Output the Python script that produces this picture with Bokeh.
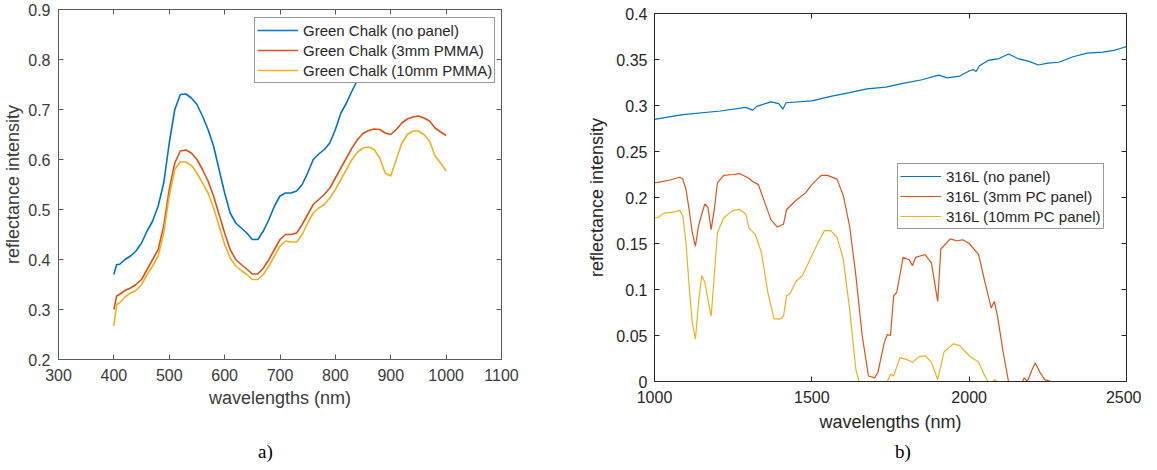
from bokeh.plotting import figure
from bokeh.models import (Range1d, FixedTicker, LinearAxis, Legend, LegendItem,
                          CustomJSTickFormatter, Div, Spacer)
from bokeh.layouts import row, column
from bokeh.embed import file_html
from bokeh.resources import INLINE

# ---------------- data: panel a) Green Chalk ----------------
wl_a = [400, 405, 410, 420, 430, 440, 450, 460, 470, 480,
        490, 500, 510, 520, 530, 540, 550, 560, 570, 580,
        590, 600, 610, 620, 630, 640, 650, 660, 670, 680,
        690, 700, 710, 720, 730, 740, 750, 760, 770, 780,
        790, 800, 810, 820, 830, 840, 850, 860, 870, 880,
        890, 900, 910, 920, 930, 940, 950, 960, 970, 980,
        990, 1000]
chalk_none = [.370, .390, .390, .400, .407, .417, .433, .457, .477, .507,
              .553, .633, .700, .730, .731, .723, .710, .687, .660, .627,
              .580, .533, .493, .473, .463, .453, .440, .440, .457, .480,
              .507, .527, .533, .533, .537, .550, .573, .600, .611, .620,
              .633, .660, .693, .713, .737, .759, .775, .790, .800, .810,
              .815, .815, .820, .830, .840, .845, .850, .850, .845, .840,
              .840, .835]
chalk_3mm = [.300, .327, .330, .338, .343, .350, .360, .380, .400, .420,
             .467, .540, .593, .617, .619, .613, .600, .580, .557, .527,
             .490, .453, .420, .400, .390, .381, .371, .371, .383, .400,
             .420, .440, .450, .450, .453, .470, .490, .510, .520, .530,
             .543, .563, .583, .603, .623, .640, .652, .658, .661, .660,
             .653, .650, .660, .673, .681, .685, .687, .683, .677, .663,
             .655, .648]
chalk_10mm = [.267, .310, .313, .325, .333, .338, .350, .370, .387, .407,
              .453, .527, .580, .595, .595, .588, .573, .553, .533, .503,
              .467, .430, .403, .387, .378, .370, .360, .360, .370, .387,
              .407, .427, .437, .435, .435, .450, .473, .493, .503, .510,
              .523, .540, .560, .580, .600, .615, .623, .625, .620, .603,
              .573, .567, .600, .633, .650, .657, .657, .650, .637, .607,
              .593, .577]
labels_a = ["Green Chalk (no panel)", "Green Chalk (3mm PMMA)", "Green Chalk (10mm PMMA)"]
xticks_a = [300, 400, 500, 600, 700, 800, 900, 1000, 1100]
yticks_a = [0.2, 0.3, 0.4, 0.5, 0.6, 0.7, 0.8, 0.9]

# ---------------- data: panel b) 316L ----------------
wl_b_none = [1000, 1090, 1210, 1290, 1312, 1325, 1370, 1395, 1408, 1418,
             1500, 1560, 1620, 1675, 1735, 1790, 1850, 1903, 1930, 1970,
             2003, 2014, 2022, 2032, 2060, 2095, 2125, 2155, 2190, 2220,
             2250, 2285, 2330, 2375, 2425, 2460, 2480, 2500]
steel_none = [.285, .290, .294, .298, .295, .299, .304, .302, .296, .303,
              .305, .310, .314, .318, .320, .324, .328, .333, .330, .332,
              .338, .339, .337, .343, .349, .351, .356, .351, .348, .344,
              .346, .347, .353, .357, .358, .360, .362, .364]
wl_b_3mm = [1000, 1020, 1050, 1080, 1090, 1100, 1110, 1120, 1130, 1140,
            1150, 1160, 1170, 1180, 1190, 1200, 1220, 1250, 1270, 1300,
            1310, 1330, 1350, 1370, 1390, 1410, 1420, 1450, 1480, 1500,
            1530, 1550, 1580, 1600, 1620, 1640, 1660, 1680, 1700, 1710,
            1730, 1740, 1750, 1760, 1770, 1790, 1810, 1820, 1830, 1860,
            1880, 1900, 1910, 1940, 1960, 1980, 2000, 2030, 2050, 2070,
            2080, 2090, 2110, 2125, 2170, 2175, 2185, 2200, 2210, 2225,
            2240, 2260, 2500]
steel_3mm = [.216, .217, .219, .222, .220, .209, .187, .162, .147, .169,
             .182, .193, .189, .165, .187, .216, .224, .225, .226, .221,
             .218, .214, .195, .176, .168, .171, .187, .197, .205, .214,
             .224, .224, .220, .202, .169, .115, .050, .006, .004, .010,
             .042, .051, .050, .093, .097, .135, .132, .126, .135, .138,
             .129, .087, .144, .155, .153, .154, .150, .138, .108, .080,
             .087, .071, .028, 0, 0, .004, 0, .013, .020, .010,
             .002, 0, 0]
wl_b_10mm = [1000, 1010, 1030, 1060, 1080, 1090, 1100, 1110, 1120, 1130,
             1140, 1150, 1160, 1170, 1180, 1190, 1200, 1220, 1250, 1270,
             1290, 1300, 1320, 1340, 1360, 1380, 1400, 1410, 1420, 1430,
             1450, 1470, 1500, 1520, 1540, 1560, 1580, 1600, 1620, 1640,
             1650, 1740, 1750, 1760, 1780, 1800, 1820, 1840, 1860, 1880,
             1900, 1920, 1950, 1970, 2000, 2030, 2050, 2060, 2075, 2080,
             2090, 2500]
steel_10mm = [.178, .178, .183, .184, .186, .180, .151, .104, .064, .046,
              .086, .115, .108, .089, .071, .115, .162, .178, .186, .187,
              .182, .167, .160, .140, .097, .068, .068, .071, .093, .095,
              .109, .115, .137, .151, .164, .164, .157, .133, .079, .013,
              0, 0, .008, .006, .026, .024, .021, .027, .028, .021,
              .002, .032, .041, .039, .028, .021, .006, 0, 0, .002,
              0, 0]
labels_b = ["316L (no panel)", "316L (3mm PC panel)", "316L (10mm PC panel)"]
xticks_b = [1000, 1500, 2000, 2500]
yticks_b = [0, 0.05, 0.1, 0.15, 0.2, 0.25, 0.3, 0.35, 0.4]

COLORS = ["#0072BD", "#D95319", "#EDB120"]
FONT = "Liberation Sans"
SERIF = "Liberation Serif"


def style(p, xticks, yticks, axcol, txtcol, xstand, xlab_stand, ystand, ylab_stand):
    fmt = CustomJSTickFormatter(code="return String(Math.round(tick*100)/100);")
    p.xgrid.visible = False
    p.ygrid.visible = False
    p.outline_line_color = axcol
    p.outline_line_width = 1
    for ax in p.xaxis:
        ax.ticker = FixedTicker(ticks=xticks)
        ax.major_label_standoff = xstand
        ax.axis_label_standoff = xlab_stand
    for ax in p.yaxis:
        ax.ticker = FixedTicker(ticks=yticks)
        ax.formatter = fmt
        ax.major_label_standoff = ystand
        ax.axis_label_standoff = ylab_stand
    for ax in p.xaxis + p.yaxis:
        ax.major_tick_in = 5
        ax.major_tick_out = 0
        ax.minor_tick_line_color = None
        ax.axis_line_color = axcol
        ax.major_tick_line_color = axcol
        ax.major_label_text_font = FONT
        ax.major_label_text_font_size = "16px"
        ax.major_label_text_color = txtcol
        ax.axis_label_text_font = FONT
        ax.axis_label_text_font_size = "18px"
        ax.axis_label_text_font_style = "normal"
        ax.axis_label_text_color = txtcol
    for ticks, side in ((xticks, "above"), (yticks, "right")):
        ax = LinearAxis(ticker=FixedTicker(ticks=ticks),
                        formatter=CustomJSTickFormatter(code="return '';"),
                        major_label_text_font_size="1px",
                        major_label_standoff=0, major_tick_in=5, major_tick_out=0,
                        minor_tick_line_color=None, axis_line_color=axcol,
                        major_tick_line_color=axcol)
        p.add_layout(ax, side)


def legend(items, loc):
    return Legend(items=items, location=loc, padding=2, spacing=0, margin=0,
                  label_height=20, glyph_height=20, glyph_width=41, label_standoff=5,
                  label_text_font=FONT, label_text_font_size="15px",
                  label_text_color="#262626", border_line_color="#333333",
                  border_line_width=1, background_fill_color="white",
                  background_fill_alpha=1)


def caption(text, width, indent):
    return Div(text=text, width=width, height=14,
               styles={"font-family": SERIF, "font-size": "19px", "line-height": "14px",
                       "color": "black", "text-indent": f"{indent}px",
                       "overflow": "visible", "white-space": "nowrap"})


# ---------------- panel a ----------------
# frame: 448 x 350, top border 9, bottom border 59
pa = figure(width=580, height=418, output_backend="svg", toolbar_location=None,
            x_range=Range1d(300, 1100), y_range=Range1d(0.2, 0.9),
            min_border_left=53, min_border_right=79, min_border_top=9, min_border_bottom=59,
            x_axis_label="wavelengths (nm)", y_axis_label="reflectance intensity")
pa.border_fill_color = "white"
style(pa, xticks_a, yticks_a, "#5a5a5a", "#3a3a3a", 9, 4, 8, 2)
ra = []
for ys, c in zip([chalk_none, chalk_3mm, chalk_10mm], COLORS):
    ra.append(pa.line(wl_a, ys, line_color=c, line_width=1.6))
pa.add_layout(legend([LegendItem(label=l, renderers=[r]) for l, r in zip(labels_a, ra)],
                     (196, 276)))

# ---------------- panel b ----------------
# frame: 472 x 368, top border 9 (+4 spacer), bottom border 59
pb = figure(width=561, height=436, output_backend="svg", toolbar_location=None,
            x_range=Range1d(1000, 2500), y_range=Range1d(0, 0.4),
            min_border_left=74, min_border_right=15, min_border_top=9, min_border_bottom=59,
            x_axis_label="wavelengths (nm)", y_axis_label="reflectance intensity")
pb.border_fill_color = "white"
style(pb, xticks_b, yticks_b, "#262626", "#262626", 9, 6, 7, 6)
rb = []
for xs, ys, c in zip([wl_b_none, wl_b_3mm, wl_b_10mm], [steel_none, steel_3mm, steel_10mm], COLORS):
    rb.append(pb.line(xs, ys, line_color=c, line_width=1.2))
pb.add_layout(legend([LegendItem(label=l, renderers=[r]) for l, r in zip(labels_b, rb)],
                     (243, 152)))

cap_a = caption("a)", 580, 253)
cap_b = caption("b)", 561, 300)

col_a = column(pa, Spacer(width=580, height=22))
col_b = column(Spacer(width=561, height=4), pb)
layout = column(row(col_a, col_b), row(cap_a, cap_b))
open("out.html", "w").write(file_html(layout, INLINE))
